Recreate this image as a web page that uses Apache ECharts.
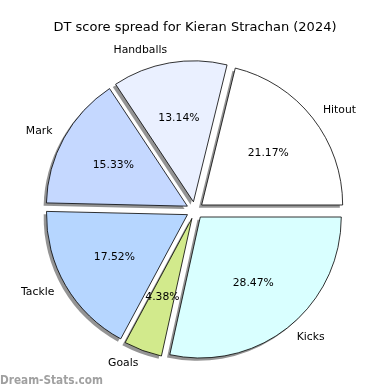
<!DOCTYPE html>
<html>
<head>
<meta charset="utf-8">
<script src="https://cdn.jsdelivr.net/npm/echarts@6/dist/echarts.min.js"></script>
<style>
html,body{margin:0;padding:0;background:#fff;}
#c{width:390px;height:390px;}
</style>
</head>
<body>
<div id="c"></div>
<script>
const categories = ['Hitout', 'Handballs', 'Mark', 'Tackle', 'Goals', 'Kicks'];
const values = [29, 18, 21, 24, 6, 39];
const colors = ['#ffffff', '#eaf0ff', '#c5d8ff', '#b6d6ff', '#d2ea8c', '#d9ffff'];
const titleText = 'DT score spread for Kieran Strachan (2024)';
const watermark = 'Dream-Stats.com';

const R = 141;
const CENTER = [194.9, 210.3];
const OFFSET = 8.6;
const FONT = 'DejaVu Sans';
const total = values.reduce((a, b) => a + b, 0);

function mkData(style) {
  return categories.map((c, i) => ({
    name: c,
    value: values[i],
    selected: true,
    itemStyle: style(i)
  }));
}

const base = {
  type: 'pie',
  center: CENTER,
  startAngle: 0,
  clockwise: false,
  selectedMode: 'multiple',
  selectedOffset: OFFSET,
  avoidLabelOverlap: false,
  silent: true,
  animation: false,
  minShowLabelAngle: 0,
  emphasis: { disabled: true, scale: false }
};

const chart = echarts.init(document.getElementById('c'), null, { renderer: 'canvas' });
chart.setOption({
  animation: false,
  backgroundColor: '#ffffff',
  title: {
    text: titleText,
    left: 'center',
    top: 21,
    padding: 0,
    textStyle: { fontFamily: FONT, fontSize: 13, fontWeight: 'normal', color: '#000' }
  },
  graphic: [{
    type: 'text',
    left: 0,
    top: 375,
    style: {
      text: watermark,
      font: 'bold 11.7px "DejaVu Sans Condensed", "DejaVu Sans"',
      fill: 'rgba(128,128,128,0.75)'
    }
  }],
  series: [
    // filled wedges with drop shadow (no border, so the shadow comes from the fill only)
    Object.assign({}, base, {
      name: 'fill',
      radius: [0, R],
      data: mkData(i => ({ color: colors[i] })),
      label: { show: false },
      labelLine: { show: false },
      itemStyle: {
        borderWidth: 0,
        shadowColor: 'rgba(0,0,0,0.42)',
        shadowBlur: 0,
        shadowOffsetX: -2.8,
        shadowOffsetY: 2.8
      },
      select: { itemStyle: { borderWidth: 0 } }
    }),
    // black outlines on top
    Object.assign({}, base, {
      name: 'edge',
      radius: [0, R],
      z: 3,
      data: mkData(() => ({ color: 'rgba(0,0,0,0)' })),
      label: { show: false },
      labelLine: { show: false },
      itemStyle: { borderColor: '#000', borderWidth: 0.8 },
      select: { itemStyle: { borderColor: '#000', borderWidth: 0.8 } }
    }),
    Object.assign({}, base, {
      name: 'pct',
      radius: [0, R * 1.2 - 6],
      data: mkData(() => ({ color: 'rgba(0,0,0,0)' })),
      z: 5,
      label: {
        show: true,
        position: 'inside',
        formatter: p => (p.value / total * 100).toFixed(2) + '%',
        fontFamily: FONT,
        fontSize: 10.8,
        color: '#000',
        padding: [4.6, 0, 0, 0]
      },
      labelLine: { show: false },
      itemStyle: { borderWidth: 0 },
      select: { itemStyle: { borderWidth: 0 } }
    }),
    Object.assign({}, base, {
      name: 'names',
      radius: [0, R * 1.1 - 1],
      data: mkData(() => ({ color: 'rgba(0,0,0,0)' })),
      z: 5,
      label: {
        show: true,
        position: 'outside',
        formatter: '{b}',
        distanceToLabelLine: 0,
        fontFamily: FONT,
        fontSize: 10.8,
        color: '#000',
        padding: [6, 0, 0, 0]
      },
      labelLine: { show: false, length: 0, length2: 0 },
      itemStyle: { borderWidth: 0 },
      select: { itemStyle: { borderWidth: 0 } }
    })
  ]
});
</script>
</body>
</html>
